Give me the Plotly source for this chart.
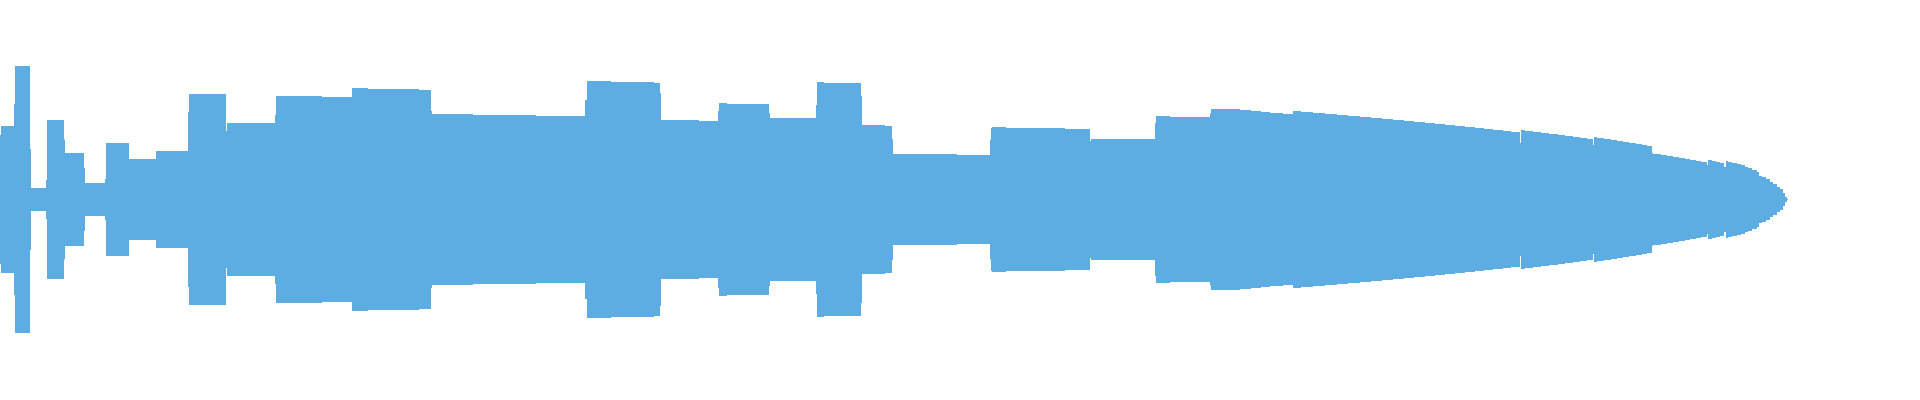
import plotly.graph_objects as go

# Waveform envelope: start position of each step and its half-amplitude
sample_pos = [
    0, 1, 14, 15, 30, 31, 46, 47, 64, 65, 84, 85, 105, 106, 129, 156, 188, 189,
    226, 227, 275, 276, 322, 352, 368, 419, 431, 432, 473, 536, 585, 587, 611,
    654, 660, 661, 699, 718, 719, 727, 769, 770, 816, 817, 824, 861, 862, 885,
    892, 893, 957, 990, 991, 992, 1006, 1065, 1090, 1091, 1155, 1156, 1170,
    1210, 1211, 1240, 1251, 1261, 1270, 1283, 1293, 1301, 1313, 1325, 1337,
    1348, 1360, 1371, 1382, 1393, 1404, 1414, 1425, 1435, 1445, 1455, 1465,
    1475, 1484, 1493, 1503, 1511, 1520, 1521, 1525, 1533, 1541, 1549, 1558,
    1565, 1573, 1580, 1587, 1593, 1594, 1597, 1604, 1611, 1617, 1623, 1629,
    1636, 1642, 1647, 1652, 1653, 1661, 1667, 1673, 1679, 1685, 1690, 1696,
    1701, 1707, 1708, 1712, 1716, 1720, 1724, 1726, 1728, 1732, 1737, 1741,
    1745, 1748, 1752, 1757, 1759, 1762, 1766, 1770, 1773, 1777, 1780, 1783,
    1785, 1787,
]
amplitude = [
    64.5, 73.5, 95.5, 133.5, 50.5, 11.5, 19.5, 79.5, 60, 46.5, 31.5, 16.5,
    20.5, 56.5, 40.5, 48.5, 87.5, 105.5, 68.5, 76.5, 84.5, 103.5, 102.5,
    111.5, 110.5, 109.5, 88.5, 85.5, 84.5, 83.5, 99.5, 118.5, 117.5, 116.5,
    106.5, 79.5, 78.5, 88.5, 96.5, 95.5, 86.5, 81.5, 94.5, 117.5, 116.5,
    103.5, 74.5, 73.5, 60.5, 45.5, 44.5, 60, 71.5, 72.5, 71.5, 70.5, 58.5,
    60.5, 76.5, 83.5, 82.5, 86, 90.5, 89.5, 88.5, 87.5, 86.5, 85.5, 88.5,
    87.5, 86.5, 85.5, 84.5, 83.5, 82.5, 81.5, 80.5, 79.5, 78.5, 77.5, 76.5,
    75.5, 74.5, 73.5, 72.5, 71.5, 70.5, 69.5, 68.5, 67.5, 56.5, 69.5, 68.5,
    67.5, 66.5, 65.5, 64.5, 63.5, 62.5, 61.5, 60.5, 54.5, 62.5, 61.5, 60.5,
    59.5, 58.5, 57.5, 56.5, 55.5, 54.5, 53.5, 46.5, 45.5, 44.5, 43.5, 42.5,
    41.5, 40.5, 39.5, 38.5, 37.5, 34.5, 39.5, 38.5, 37.5, 36.5, 32.5, 38.5,
    37.5, 36.5, 35.5, 34.5, 32.5, 31.5, 29.5, 27.5, 23.5, 22.5, 20.5, 17.5,
    15.5, 12.5, 10.5, 6.5, 2.5, 0.5,
]
end_pos = 1788

xs = sample_pos + [end_pos]
upper = amplitude + [amplitude[-1]]
lower = [-v for v in upper]

color = "#5DACE2"

fig = go.Figure()
fig.add_trace(go.Scatter(x=xs, y=upper, mode="lines", line=dict(width=0, color=color, shape="hv"),
                         hoverinfo="skip", showlegend=False))
fig.add_trace(go.Scatter(x=xs, y=lower, mode="lines", line=dict(width=0, color=color, shape="hv"),
                         fill="tonexty", fillcolor=color, hoverinfo="skip", showlegend=False))

fig.update_layout(
    width=1920, height=400,
    margin=dict(l=0, r=0, t=0, b=0),
    paper_bgcolor="white", plot_bgcolor="white",
    xaxis=dict(range=[0, 1920], visible=False, fixedrange=True),
    yaxis=dict(range=[-200.5, 199.5], visible=False, fixedrange=True),
)

fig.write_html(
    "out.html",
    config={"displayModeBar": False},
    post_script="document.body.style.margin='0px';document.body.style.overflow='hidden';",
)
